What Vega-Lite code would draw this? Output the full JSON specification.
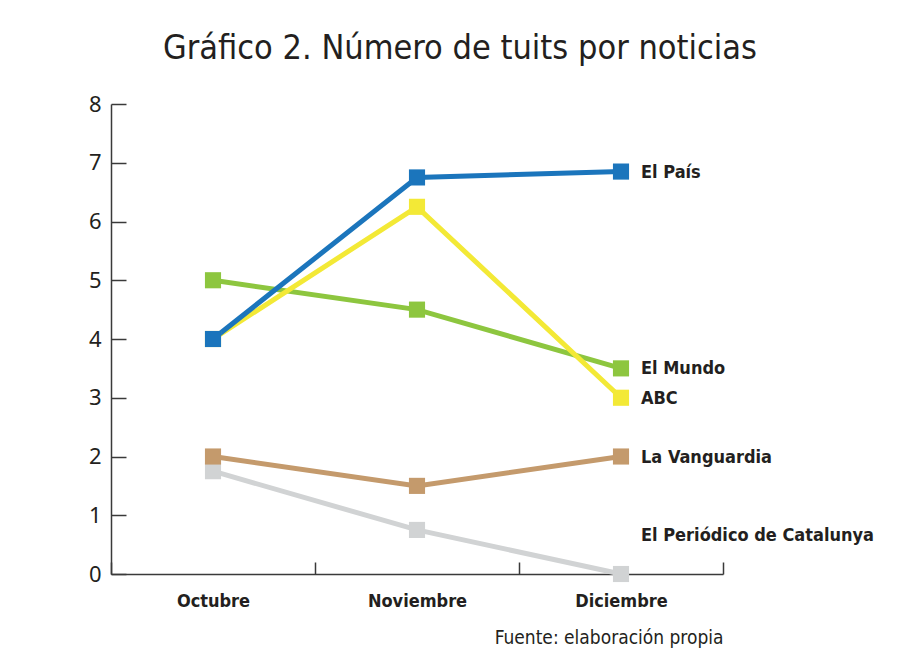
{
  "$schema": "https://vega.github.io/schema/vega-lite/v6.json",
  "width": 612,
  "height": 470,
  "autosize": {"type": "none"},
  "padding": {"left": 111, "top": 104, "right": 179, "bottom": 98},
  "background": "white",
  "title": {
    "text": "Gráfico 2. Número de tuits por noticias",
    "font": "Liberation Sans Narrow, DejaVu Sans Condensed, Roboto",
    "fontSize": 34,
    "fontWeight": "normal",
    "color": "#231f20",
    "anchor": "middle",
    "dx": 43,
    "offset": 27
  },
  "config": {
    "view": {"stroke": null},
    "axis": {"grid": false}
  },
  "data": {
    "values": [
      {"medio": "El Periódico de Catalunya", "mes": "Octubre", "valor": 1.75},
      {"medio": "El Periódico de Catalunya", "mes": "Noviembre", "valor": 0.75},
      {"medio": "El Periódico de Catalunya", "mes": "Diciembre", "valor": 0},
      {"medio": "La Vanguardia", "mes": "Octubre", "valor": 2},
      {"medio": "La Vanguardia", "mes": "Noviembre", "valor": 1.5},
      {"medio": "La Vanguardia", "mes": "Diciembre", "valor": 2},
      {"medio": "El Mundo", "mes": "Octubre", "valor": 5},
      {"medio": "El Mundo", "mes": "Noviembre", "valor": 4.5},
      {"medio": "El Mundo", "mes": "Diciembre", "valor": 3.5},
      {"medio": "ABC", "mes": "Octubre", "valor": 4},
      {"medio": "ABC", "mes": "Noviembre", "valor": 6.25},
      {"medio": "ABC", "mes": "Diciembre", "valor": 3},
      {"medio": "El País", "mes": "Octubre", "valor": 4},
      {"medio": "El País", "mes": "Noviembre", "valor": 6.75},
      {"medio": "El País", "mes": "Diciembre", "valor": 6.85}
    ]
  },
  "encoding": {
    "x": {
      "field": "mes",
      "type": "ordinal",
      "sort": ["Octubre", "Noviembre", "Diciembre"],
      "scale": {"paddingInner": 0, "paddingOuter": 0},
      "axis": {
        "title": "Fuente: elaboración propia",
        "titleAnchor": "end",
        "titleAlign": "right",
        "titleFont": "Liberation Sans Narrow, DejaVu Sans Condensed, Roboto",
        "titleFontSize": 19,
        "titleFontWeight": "normal",
        "titleColor": "#231f20",
        "titlePadding": 18,
        "labelAngle": 0,
        "labelFont": "Liberation Sans Narrow, DejaVu Sans Condensed, Roboto",
        "labelFontSize": 18,
        "labelFontWeight": "bold",
        "labelColor": "#231f20",
        "labelPadding": 30,
        "tickBand": "extent",
        "tickSize": -12,
        "tickColor": "#3a3a3a",
        "tickWidth": 1.5,
        "domainColor": "#3a3a3a",
        "domainWidth": 1.5
      }
    },
    "y": {
      "field": "valor",
      "type": "quantitative",
      "scale": {"domain": [0, 8], "nice": false},
      "axis": {
        "title": null,
        "values": [0, 1, 2, 3, 4, 5, 6, 7, 8],
        "tickSize": -15,
        "tickColor": "#3a3a3a",
        "tickWidth": 1.5,
        "domainColor": "#3a3a3a",
        "domainWidth": 1.5,
        "labelFont": "Noto Sans",
        "labelFontSize": 22,
        "labelColor": "#231f20",
        "labelPadding": 25
      }
    },
    "color": {
      "field": "medio",
      "type": "nominal",
      "legend": null,
      "scale": {
        "domain": ["El Periódico de Catalunya", "La Vanguardia", "El Mundo", "ABC", "El País"],
        "range": ["#d1d3d4", "#c49a6c", "#8dc63f", "#f3e936", "#1b75bc"]
      }
    }
  },
  "layer": [
    {"mark": {"type": "line", "strokeWidth": 5}},
    {"mark": {"type": "point", "shape": "square", "filled": true, "opacity": 1, "size": 260}},
    {
      "transform": [{"filter": "datum.mes === 'Diciembre' && datum.medio !== 'El Periódico de Catalunya'"}],
      "mark": {"type": "text", "align": "left", "baseline": "middle", "dx": 20, "dy": 1, "font": "Liberation Sans Narrow, DejaVu Sans Condensed, Roboto", "fontSize": 18, "fontWeight": "bold"},
      "encoding": {"text": {"field": "medio"}, "color": {"value": "#231f20"}}
    },
    {
      "transform": [{"filter": "datum.mes === 'Diciembre' && datum.medio === 'El Periódico de Catalunya'"}],
      "mark": {"type": "text", "align": "left", "baseline": "middle", "dx": 20, "dy": -38, "font": "Liberation Sans Narrow, DejaVu Sans Condensed, Roboto", "fontSize": 18, "fontWeight": "bold"},
      "encoding": {"text": {"field": "medio"}, "color": {"value": "#231f20"}}
    }
  ]
}
